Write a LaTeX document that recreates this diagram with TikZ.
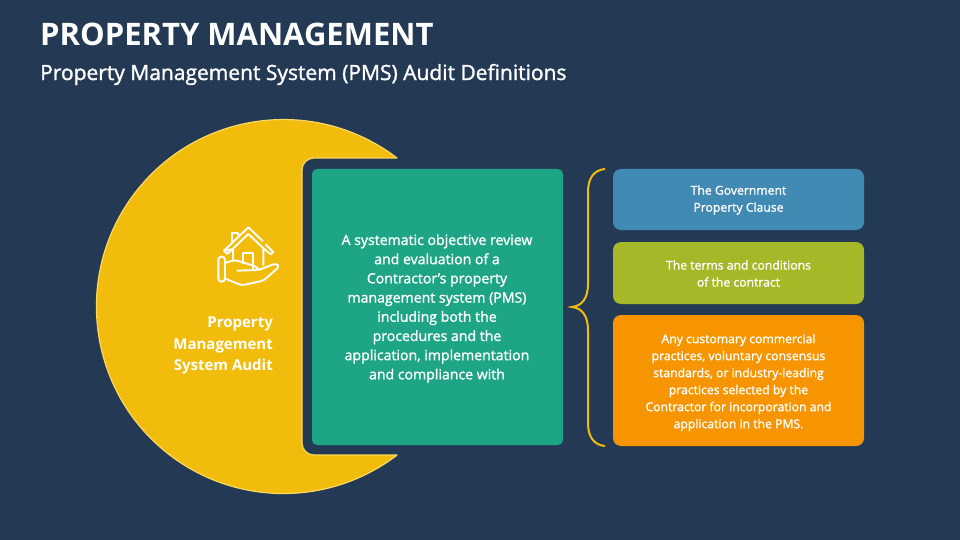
\documentclass[tikz,border=0pt]{standalone}
\usepackage{fontspec}
\setmainfont{Open Sans}
\newfontfamily\semi[FakeBold=1.4]{Open Sans}
\definecolor{bgc}{HTML}{243A54}
\definecolor{yel}{HTML}{F2BC0C}
\definecolor{yell}{HTML}{FBD860}
\definecolor{grn}{HTML}{1EA585}
\definecolor{blu}{HTML}{418AB3}
\definecolor{oli}{HTML}{A6B727}
\definecolor{org}{HTML}{F79500}
\tikzset{
 body/.style={text=white,font=\semi\fontsize{12.2}{17}\selectfont,align=center,inner sep=0pt},
 centre/.style={text=white,font=\semi\fontsize{14.1}{19.2}\selectfont,align=center,inner sep=0pt},
 icon/.style={draw=white,line width=1.9pt,line cap=round,line join=round},
}
\begin{document}
\begin{tikzpicture}[x=1pt,y=1pt]
\fill[bgc] (0,0) rectangle (960,-540);
\useasboundingbox (0,0) rectangle (960,-540);
\node[anchor=west,text=white,inner sep=0pt,font=\fontsize{31}{36}\selectfont\bfseries] (title) at (40,-34) {PROPERTY MANAGEMENT};
\node[anchor=west,text=white,inner sep=0pt,font=\semi\fontsize{21}{24}\selectfont] (sub) at (40,-74.5) {Property Management System (PMS) Audit Definitions};
% crescent
\draw[fill=yel,draw=yell,line width=1.2pt,line join=round]
 (397,-158) arc[start angle=52.6,end angle=307.4,radius=187]
 -- (314,-455) arc[start angle=270,end angle=180,radius=12]
 -- (302,-170) arc[start angle=180,end angle=90,radius=12] -- cycle;
\fill[grn,rounded corners=5pt] (312,-169) rectangle (563,-445);
\fill[blu,rounded corners=8pt] (613,-169) rectangle (864,-230);
\fill[oli,rounded corners=8pt] (613,-242) rectangle (864,-304);
\fill[org,rounded corners=8pt] (613,-315) rectangle (864,-446);
% brace
\draw[yel,line width=2pt] (605,-169) .. controls (594,-170) and (588,-178) .. (588,-192)
 -- (588,-284) .. controls (588,-298) and (582,-306) .. (572,-307)
 .. controls (582,-308) and (588,-316) .. (588,-330)
 -- (588,-423) .. controls (588,-437) and (594,-445) .. (605,-446);
% texts
\node[centre] (t0) at (437,-308.5) {A systematic objective review\\and evaluation of a\\Contractor’s property\\management system (PMS)\\including both the\\procedures and the\\application, implementation\\and compliance with};
\node[inner sep=0pt,text=white,font=\fontsize{15}{21.5}\selectfont\bfseries,align=right,anchor=east] (t1) at (273,-345.5) {Property\\Management\\System Audit};
\node[body] (t2) at (738.5,-200) {The Government\\Property Clause};
\node[body] (t3) at (738.5,-273.5) {The terms and conditions\\of the contract};
\node[body] (t4) at (738.5,-382.5) {Any customary commercial\\practices, voluntary consensus\\standards, or industry-leading\\practices selected by the\\Contractor for incorporation and\\application in the PMS.};
% icon: zoom coords /3 + (200,210)
\begin{scope}[shift={(200,-210)},x=0.3333pt,y=-0.3333pt]
\draw[icon] (100,117)--(72,122)--(145,52)--(188,93);
\draw[icon] (72,122)--(82,132)--(145,72)--(190,115)--(190,165);
\draw[icon] (198,104)--(220,126)--(212,133)--(190,115);
\draw[icon] (95,95)--(95,68)--(115,68)--(115,75);
\draw[icon] (130,160)--(130,128)--(160,128)--(160,175);
\draw[icon] (100,122)--(100,150);
\draw[icon,rounded corners=3pt] (55,140)--(75,140)--(75,215)--(55,215)--cycle;
\draw[icon,rounded corners=3pt] (78,158)--(105,150)--(170,170)--(176,180)--(112,182);
\draw[icon,rounded corners=3pt] (176,180)--(228,160)--(238,170)--(190,212)--(125,226)--(78,207);
\end{scope}
\end{tikzpicture}
\end{document}
